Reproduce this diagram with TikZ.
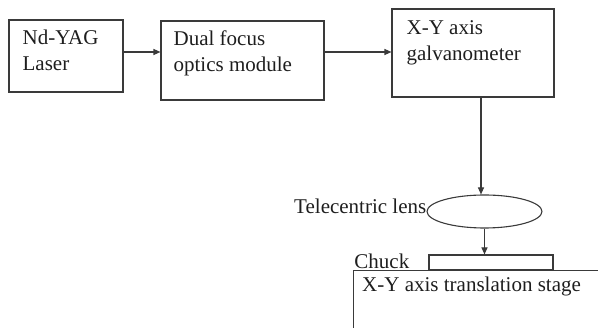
\documentclass[tikz,border=0pt]{standalone}
\usepackage{fontspec}
\setmainfont{Liberation Serif}
\usetikzlibrary{shapes.geometric,arrows.meta}
\definecolor{linec}{HTML}{3A3A3A}
\definecolor{textc}{HTML}{1E1E1E}
\begin{document}
\begin{tikzpicture}[x=1pt,y=-1pt,
  box/.style={draw=linec,line width=1.1pt,rectangle,inner sep=0pt},
  txt/.style={inner sep=0pt,align=left,text=textc,font=\fontsize{21}{26}\selectfont},
  arr/.style={draw=linec,line width=1.1pt,-{Triangle[length=7pt,width=6pt]}}]
\useasboundingbox (0,0) rectangle (598,328);
\clip (0,0) rectangle (598,328);
\node[box,minimum width=114pt,minimum height=72pt] (laser) at (66,56) {};
\node[box,minimum width=163pt,minimum height=79pt] (optics) at (242.5,60.5) {};
\node[box,minimum width=162pt,minimum height=88pt] (galvo) at (473,53) {};
\node[box,ellipse,minimum width=115pt,minimum height=33pt] (lens) at (484.5,211.5) {};
\node[box,minimum width=124pt,minimum height=15pt] (chuck) at (491,262.5) {};
\node[box,anchor=north west,minimum width=300pt,minimum height=100pt] (stage) at (353,270) {};
\node[txt,anchor=north west] (laserT) at ([xshift=14pt,yshift=-10.5pt]laser.north west) {Nd-YAG\\Laser};
\node[txt,anchor=north west] (opticsT) at ([xshift=13pt,yshift=-10.5pt]optics.north west) {Dual focus\\optics module};
\node[txt,anchor=north west] (galvoT) at ([xshift=15pt,yshift=-11.5pt]galvo.north west) {X-Y axis\\galvanometer};
\node[txt,anchor=mid east] (lensT) at (lens.west) {Telecentric lens};
\node[txt,anchor=base east] (chuckT) at ([xshift=-19pt,yshift=2pt]chuck.south west) {Chuck};
\node[txt,anchor=base west] (stageT) at ([xshift=9pt,yshift=-22pt]stage.north west) {X-Y axis translation stage};
\draw[arr] ([yshift=4pt]laser.east) -- ([yshift=4pt]optics.west |- laser.east);
\draw[arr] ([yshift=8.5pt]optics.east) -- ([yshift=8.5pt]galvo.west |- optics.east);
\draw[arr] ([xshift=8pt]galvo.south) -- ([xshift=8pt]galvo.south |- lens.north);
\draw[arr] (lens.south) -- (lens.south |- chuck.north);
\end{tikzpicture}
\end{document}
